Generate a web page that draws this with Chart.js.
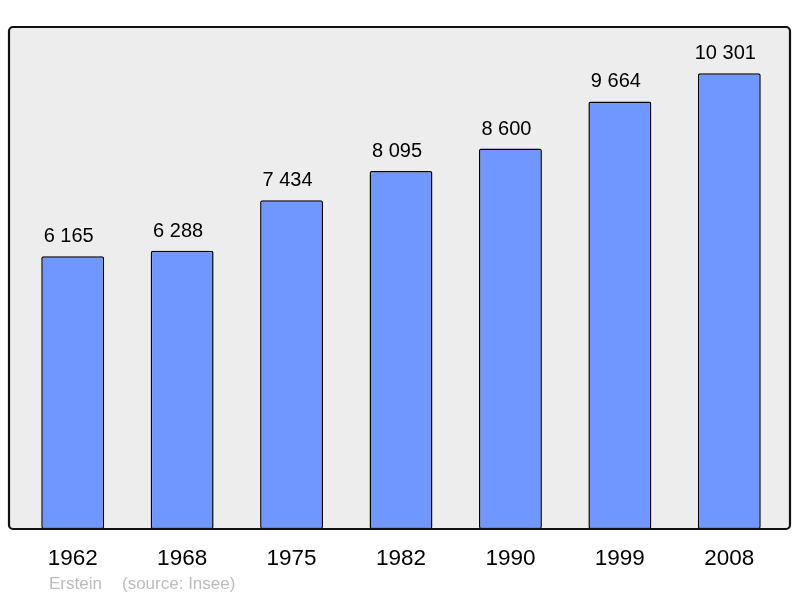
<!DOCTYPE html>
<html>
<head>
<meta charset="utf-8">
<script src="https://cdn.jsdelivr.net/npm/chart.js@4"></script>
<style>
  html, body { margin: 0; padding: 0; background: #fff; }
  #wrap { width: 800px; height: 598px; position: relative; }
</style>
</head>
<body>
<div id="wrap"><canvas id="c" width="800" height="598"></canvas></div>
<script>
// ── Data ──
const years = ['1962', '1968', '1975', '1982', '1990', '1999', '2008'];
const population = [6165, 6288, 7434, 8095, 8600, 9664, 10301];
const placeName = 'Erstein';
const sourceNote = '(source: Insee)';

const fmt = v => String(v).replace(/\B(?=(\d{3})+(?!\d))/g, ' ');
const FONT = '"Liberation Sans", Arial, sans-serif';

// frame + background + labels
const decor = {
  id: 'decor',
  beforeDraw(chart) {
    const ctx = chart.ctx, a = chart.chartArea;
    ctx.save();
    ctx.beginPath();
    ctx.roundRect(9, a.top, 781, a.bottom - a.top, 4);
    ctx.fillStyle = '#ededed';
    ctx.fill();
    ctx.restore();
  },
  afterDatasetsDraw(chart) {
    const ctx = chart.ctx, a = chart.chartArea;
    ctx.save();
    ctx.beginPath();
    ctx.roundRect(9, a.top, 781, a.bottom - a.top, 4);
    ctx.lineWidth = 2.2;
    ctx.strokeStyle = '#111';
    ctx.stroke();

    ctx.font = '20px ' + FONT;
    ctx.fillStyle = '#000';
    ctx.textAlign = 'center';
    ctx.textBaseline = 'alphabetic';
    chart.getDatasetMeta(0).data.forEach((bar, i) => {
      ctx.fillText(fmt(population[i]), bar.x - 4, bar.y - 14);
    });

    ctx.font = '17px ' + FONT;
    ctx.fillStyle = '#bdbdbd';
    ctx.textAlign = 'left';
    ctx.fillText(placeName, 49, 589);
    ctx.fillText(sourceNote, 122, 589);
    ctx.restore();
  }
};

new Chart(document.getElementById('c').getContext('2d'), {
  type: 'bar',
  data: {
    labels: years,
    datasets: [{
      data: population,
      backgroundColor: '#7096ff',
      borderColor: '#000',
      borderWidth: 1.5,
      borderRadius: 2,
      borderSkipped: false,
      barPercentage: 0.575,
      categoryPercentage: 1
    }]
  },
  options: {
    responsive: false,
    animation: false,
    events: [],
    layout: { padding: { left: 18, right: 16, top: 27, bottom: 18 } },
    plugins: { legend: { display: false }, tooltip: { enabled: false } },
    scales: {
      x: {
        grid: { display: false },
        border: { display: false },
        ticks: { color: '#000', font: { size: 22.5, family: FONT }, padding: 8 }
      },
      y: { display: false, min: 0, max: 11348 }
    }
  },
  plugins: [decor]
});
</script>
</body>
</html>
